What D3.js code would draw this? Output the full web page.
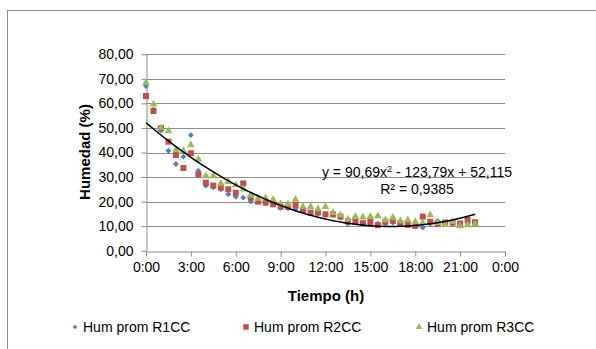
<!DOCTYPE html>
<html>
<head>
<meta charset="utf-8">
<script src="https://cdn.jsdelivr.net/npm/d3@7"></script>
<style>
  body { margin: 0; background: #fff; }
  text { font-family: "Liberation Sans", Arial, sans-serif; fill: #000; }
</style>
</head>
<body>
<div id="chart"></div>
<script>
// Sampling times (h), every half hour
var hours = [0, 0.5, 1, 1.5, 2, 2.5, 3, 3.5, 4, 4.5, 5, 5.5, 6, 6.5, 7, 7.5, 8, 8.5, 9, 9.5,
  10, 10.5, 11, 11.5, 12, 12.5, 13, 13.5, 14, 14.5, 15, 15.5, 16, 16.5, 17, 17.5, 18, 18.5,
  19, 19.5, 20, 20.5, 21, 21.5, 22];

var r1cc = [67.1, 57.5, 48.9, 40.7, 35.3, 38.3, 47.1, 32.6, 26.5, 25.8, 25.0, 23.0, 22.0, 21.6,
  20.0, 19.8, 19.3, 19.0, 17.5, 17.3, 17.0, 16.0, 15.5, 15.0, 14.5, 14.5, 13.5, 11.0, 11.5,
  11.0, 11.0, 11.0, 11.0, 11.5, 11.0, 11.8, 11.0, 9.4, 11.0, 12.1, 11.0, 11.0, 11.0, 11.0, 11.0];

var r2cc = [63.0, 56.9, 49.9, 44.4, 39.0, 33.7, 39.7, 31.1, 27.7, 26.5, 25.7, 25.0, 23.6, 27.4,
  21.6, 20.0, 19.6, 18.9, 17.9, 17.9, 18.6, 16.6, 15.5, 15.6, 14.8, 14.8, 13.9, 12.0, 11.8,
  11.2, 11.8, 10.4, 11.8, 12.2, 11.2, 10.5, 10.1, 13.9, 11.8, 11.0, 11.5, 11.5, 11.1, 12.5, 11.6];

var r3cc = [68.4, 59.6, 50.0, 48.8, 41.0, 40.7, 43.1, 37.2, 30.4, 30.4, 27.4, 28.1, 26.8, 25.0,
  22.5, 21.3, 21.5, 20.8, 19.0, 19.0, 20.9, 17.9, 17.9, 17.0, 17.9, 15.5, 14.5, 12.8, 13.9,
  13.6, 13.9, 14.1, 12.5, 13.5, 12.1, 12.5, 11.8, 11.4, 14.5, 11.4, 10.7, 11.8, 10.1, 10.5, 10.9];

var seriesNames = ["Hum prom R1CC", "Hum prom R2CC", "Hum prom R3CC"];
var seriesColors = ["#4f81bd", "#c0504d", "#9bbb59"];
var seriesShapes = [d3.symbolDiamond2, d3.symbolSquare, d3.symbolTriangle];

var xTicks = [0, 3, 6, 9, 12, 15, 18, 21, 24];
var yTicks = [0, 10, 20, 30, 40, 50, 60, 70, 80];

// polynomial trendline (x in days), drawn over the data range
var trendCoef = [90.69, -123.79, 52.115];
var trendText = "R\u00b2 = 0,9385";

var width = 596, height = 349;
var svg = d3.select("#chart").append("svg")
  .attr("width", width)
  .attr("height", height);

// outer chart border (cropped at right and bottom)
svg.append("rect")
  .attr("x", 7.5).attr("y", 10.5)
  .attr("width", 700).attr("height", 400)
  .attr("fill", "none").attr("stroke", "#8c8c8c");

var x = d3.scaleLinear().domain([0, 24]).range([146, 505]);
var y = d3.scaleLinear().domain([0, 80]).range([250.7, 54.3]);

var fmt = function (v) { return d3.format(".2f")(v).replace(".", ","); };

// gridlines
svg.append("g").selectAll("line")
  .data(yTicks.slice(1))
  .enter().append("line")
  .attr("x1", x(0)).attr("x2", x(24))
  .attr("y1", function (d) { return Math.round(y(d)) + 0.5; })
  .attr("y2", function (d) { return Math.round(y(d)) + 0.5; })
  .attr("stroke", "#8c8c8c").attr("stroke-width", 1);

var yAxis = svg.append("g")
  .attr("transform", "translate(" + (Math.round(x(0)) + 0.5) + ",0)")
  .call(d3.axisLeft(y).tickValues(yTicks).tickFormat(fmt).tickSize(5).tickSizeOuter(0).tickPadding(8));

var xAxis = svg.append("g")
  .attr("transform", "translate(0," + (Math.round(y(0)) + 0.5) + ")")
  .call(d3.axisBottom(x).tickValues(xTicks)
    .tickFormat(function (h) { return (h % 24) + ":00"; })
    .tickSize(5).tickSizeOuter(0).tickPadding(6));

[xAxis, yAxis].forEach(function (g) {
  g.selectAll("path, line").attr("stroke", "#8c8c8c");
  g.selectAll("text").style("font-size", "14px").attr("fill", "#000");
});

// scatter points, series 1 first so green ends on top
var data = [r1cc, r2cc, r3cc];
var sizes = [22, 36, 26];
var legendSizes = [14, 30, 20];
data.forEach(function (vals, i) {
  svg.append("g").selectAll("path")
    .data(vals)
    .enter().append("path")
    .attr("d", d3.symbol().type(seriesShapes[i]).size(sizes[i]))
    .attr("transform", function (d, j) {
      return "translate(" + x(hours[j]) + "," + y(d) + ")";
    })
    .attr("fill", seriesColors[i]);
});

// trendline
var trendPts = d3.range(0, 22.01, 0.25).map(function (h) {
  var t = h / 24;
  return [h, trendCoef[0] * t * t + trendCoef[1] * t + trendCoef[2]];
});
svg.append("path")
  .datum(trendPts)
  .attr("d", d3.line().x(function (d) { return x(d[0]); }).y(function (d) { return y(d[1]); }))
  .attr("fill", "none").attr("stroke", "#000").attr("stroke-width", 1.5);

// equation label
var eq = svg.append("text")
  .attr("x", 417).attr("y", 177)
  .attr("text-anchor", "middle")
  .style("font-size", "14px");
eq.append("tspan").text("y = 90,69x");
eq.append("tspan").attr("dy", -5).style("font-size", "9px").text("2");
eq.append("tspan").attr("dy", 5).text(" - 123,79x + 52,115");

svg.append("text")
  .attr("x", 417).attr("y", 194)
  .attr("text-anchor", "middle")
  .style("font-size", "14px")
  .text(trendText);

// axis titles
svg.append("text")
  .attr("x", 326).attr("y", 301)
  .attr("text-anchor", "middle")
  .style("font-size", "15px").style("font-weight", "bold")
  .text("Tiempo (h)");

svg.append("text")
  .attr("transform", "translate(90,152) rotate(-90)")
  .attr("text-anchor", "middle")
  .style("font-size", "15px").style("font-weight", "bold")
  .text("Humedad (%)");

// legend
var legendX = [75, 246, 419];
var legend = svg.append("g").selectAll("g")
  .data(seriesNames)
  .enter().append("g")
  .attr("transform", function (d, i) { return "translate(" + legendX[i] + ",327)"; });

legend.append("path")
  .attr("d", function (d, i) { return d3.symbol().type(seriesShapes[i]).size(legendSizes[i])(); })
  .attr("fill", function (d, i) { return seriesColors[i]; });

legend.append("text")
  .attr("x", 8).attr("y", 5)
  .style("font-size", "14px")
  .text(function (d) { return d; });
</script>
</body>
</html>
